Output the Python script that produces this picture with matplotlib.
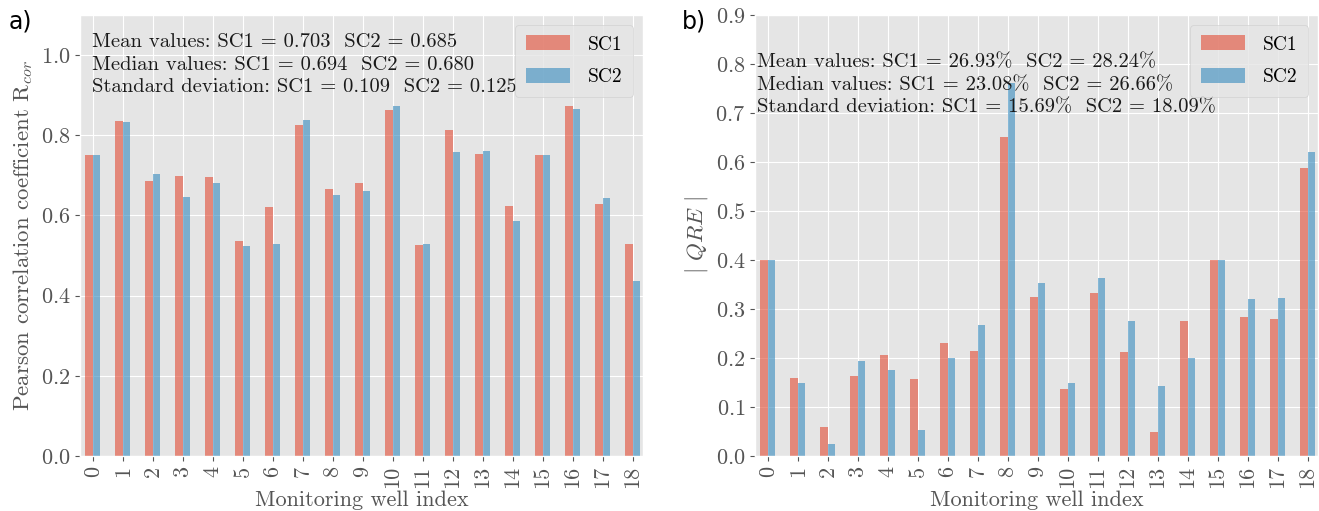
import numpy as np
import matplotlib
matplotlib.use("Agg")
import matplotlib.pyplot as plt

plt.style.use("ggplot")
plt.rcParams["font.family"] = "serif"
plt.rcParams["font.serif"] = ["cmr10"]
plt.rcParams["mathtext.fontset"] = "cm"
plt.rcParams["axes.unicode_minus"] = False
plt.rcParams["axes.formatter.use_mathtext"] = True

wells = list(range(19))
rcor_sc1 = [0.750, 0.835, 0.685, 0.699, 0.695, 0.537, 0.622, 0.825, 0.665, 0.682,
            0.862, 0.526, 0.812, 0.754, 0.623, 0.750, 0.872, 0.629, 0.529]
rcor_sc2 = [0.750, 0.832, 0.703, 0.645, 0.680, 0.523, 0.530, 0.837, 0.652, 0.660,
            0.872, 0.529, 0.758, 0.760, 0.586, 0.750, 0.865, 0.644, 0.437]
qre_sc1 = [0.400, 0.159, 0.060, 0.163, 0.207, 0.157, 0.231, 0.215, 0.652, 0.324,
           0.136, 0.333, 0.212, 0.049, 0.275, 0.400, 0.283, 0.279, 0.588]
qre_sc2 = [0.400, 0.149, 0.025, 0.194, 0.176, 0.053, 0.199, 0.267, 0.761, 0.354,
           0.148, 0.363, 0.276, 0.143, 0.201, 0.400, 0.320, 0.323, 0.621]

text_a = ("Mean values: SC1 = 0.703  SC2 = 0.685\n"
          "Median values: SC1 = 0.694  SC2 = 0.680\n"
          "Standard deviation: SC1 = 0.109  SC2 = 0.125")
text_b = ("Mean values: SC1 = 26.93%  SC2 = 28.24%\n"
          "Median values: SC1 = 23.08%  SC2 = 26.66%\n"
          "Standard deviation: SC1 = 15.69%  SC2 = 18.09%")

c1 = "#E24A33"
c2 = "#348ABD"

fig = plt.figure(figsize=(13.19, 5.11), dpi=100)
W, H = 1319, 511
ax1 = fig.add_axes([80 / W, (H - 456) / H, 563 / W, 441 / H])
ax2 = fig.add_axes([755 / W, (H - 456) / H, 563 / W, 441 / H])

x = np.arange(len(wells))
bw = 0.25

for ax, s1, s2, ylim, txt, ty, tx, ylabel in [
    (ax1, rcor_sc1, rcor_sc2, (0, 1.1), text_a, 0.958, 0.021, r"Pearson correlation coefficient R$_{cor}$"),
    (ax2, qre_sc1, qre_sc2, (0, 0.9), text_b, 0.912, 0.004, r"$|\ QRE\ |$"),
]:
    ax.bar(x - bw / 2, s1, width=bw, color=c1, alpha=0.6, label="SC1")
    ax.bar(x + bw / 2, s2, width=bw, color=c2, alpha=0.6, label="SC2")
    ax.set_xlim(-0.43, 18.35)
    ax.set_ylim(*ylim)
    ax.set_xticks(x)
    ax.set_xticklabels([str(w) for w in wells], rotation=90)
    ax.tick_params(axis="both", labelsize=16, colors="#555555")
    ax.set_xlabel("Monitoring well index", fontsize=16, color="#555555", labelpad=2)
    ax.set_ylabel(ylabel, fontsize=16.5, color="#555555")
    ax.text(tx, ty, txt, transform=ax.transAxes, fontsize=14.8, va="top", ha="left",
            color="#1a1a1a", linespacing=1.3)
    ax.legend(loc="upper right", fontsize=14, handlelength=2.3, handleheight=0.8,
              handletextpad=0.9, labelspacing=0.75, borderpad=0.55)

ax1.set_yticks([0.0, 0.2, 0.4, 0.6, 0.8, 1.0])
ax2.set_yticks(np.arange(0, 0.91, 0.1))

fig.text(9 / W, 1 - 21 / H, "a)", fontsize=17, family="DejaVu Sans", va="center", ha="left", color="black")
fig.text(682 / W, 1 - 21 / H, "b)", fontsize=17, family="DejaVu Sans", va="center", ha="left", color="black")

fig.savefig("out.png", dpi=100)
